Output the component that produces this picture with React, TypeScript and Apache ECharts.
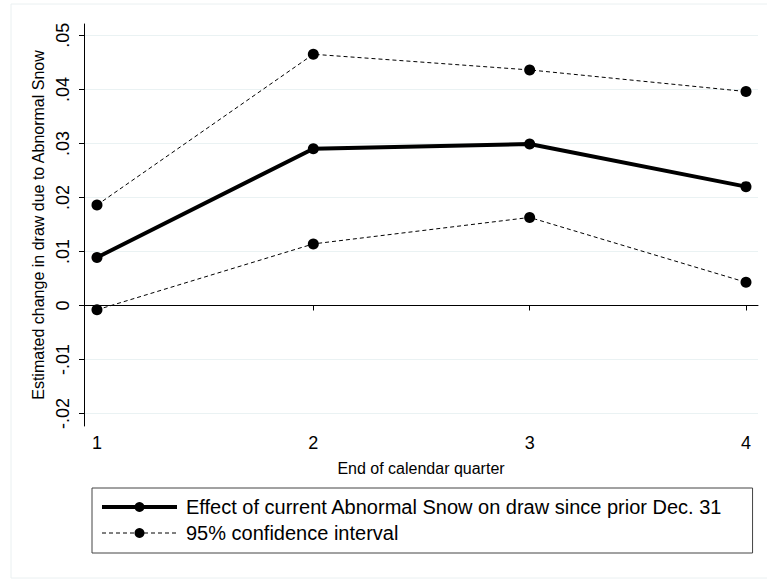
import React, { useEffect, useRef } from "react";
import * as echarts from "echarts";

const quarters = [1, 2, 3, 4];
const effect = [0.0089, 0.029, 0.0299, 0.022];
const upperCI = [0.0186, 0.0465, 0.0436, 0.0396];
const lowerCI = [-0.0008, 0.0114, 0.0163, 0.0043];
const yTicks = [-0.02, -0.01, 0, 0.01, 0.02, 0.03, 0.04, 0.05];
const xTicks = [1, 2, 3, 4];
const seriesNames = [
  "Effect of current Abnormal Snow on draw since prior Dec. 31",
  "95% confidence interval",
];

const FONT = "'Liberation Sans', Arial, sans-serif";

function fmtY(v: number): string {
  const r = Math.round(v * 100) / 100;
  if (r === 0) return "0";
  const s = r.toFixed(2);
  return s.replace("0.", ".");
}

export default function App() {
  const ref = useRef<HTMLDivElement>(null);
  useEffect(() => {
    if (!ref.current) return;
    const chart = echarts.init(ref.current, undefined, { renderer: "svg" });
    const pair = (arr: number[]) => quarters.map((q, i) => [q, arr[i]]);
    chart.setOption({
      animation: false,
      backgroundColor: "#ffffff",
      textStyle: { fontFamily: FONT },
      grid: { left: 84, right: 9, top: 24, bottom: 153, containLabel: false },
      xAxis: {
        type: "value",
        min: 0.94,
        max: 4.0555,
        name: "End of calendar quarter",
        nameLocation: "middle",
        nameGap: 34,
        nameTextStyle: { fontSize: 16, color: "#000", fontFamily: FONT },
        axisLine: { show: true, lineStyle: { color: "#000", width: 1 } },
        axisTick: { show: true, length: 5, customValues: xTicks, lineStyle: { color: "#000" } },
        axisLabel: {
          customValues: xTicks,
          fontSize: 18,
          color: "#000",
          margin: 8,
          fontFamily: FONT,
          formatter: (v: number) => String(v),
        },
        splitLine: { show: false },
      },
      yAxis: {
        type: "value",
        min: -0.0223,
        max: 0.0521,
        name: "Estimated change in draw due to Abnormal Snow",
        nameLocation: "middle",
        nameRotate: 90,
        nameGap: 35,
        nameTextStyle: { fontSize: 16, color: "#000", fontFamily: FONT },
        axisLine: { show: true, lineStyle: { color: "#000", width: 1 } },
        axisTick: { show: true, length: 5, customValues: yTicks, lineStyle: { color: "#000" } },
        axisLabel: {
          customValues: yTicks,
          rotate: 90,
          fontSize: 18,
          color: "#000",
          margin: 12,
          fontFamily: FONT,
          formatter: (v: number) => fmtY(v),
        },
        splitLine: { show: true, lineStyle: { color: "#eaf2f3", width: 1 } },
      },
      legend: {
        orient: "vertical",
        left: 92,
        top: 488,
        padding: [9, 30, 10, 8],
        borderColor: "#444",
        borderWidth: 1,
        itemWidth: 75,
        itemHeight: 12.5,
        itemGap: 6,
        textStyle: { fontSize: 20, color: "#000", fontFamily: FONT, padding: [0, 0, 0, 4] },
        data: [
          { name: seriesNames[0], lineStyle: { width: 4, color: "#000", type: "solid" } },
          { name: seriesNames[1], lineStyle: { width: 1, color: "#000", type: [4, 3] } },
        ],
      },
      series: [
        {
          name: seriesNames[1],
          type: "line",
          data: pair(upperCI),
          symbol: "circle",
          symbolSize: 11,
          itemStyle: { color: "#000" },
          lineStyle: { color: "#000", width: 1, type: [4, 3] },
          z: 3,
        },
        {
          name: seriesNames[1],
          type: "line",
          data: pair(lowerCI),
          symbol: "circle",
          symbolSize: 11,
          itemStyle: { color: "#000" },
          lineStyle: { color: "#000", width: 1, type: [4, 3] },
          z: 3,
        },
        {
          name: seriesNames[0],
          type: "line",
          data: pair(effect),
          symbol: "circle",
          symbolSize: 11,
          itemStyle: { color: "#000" },
          lineStyle: { color: "#000", width: 4 },
          z: 4,
        },
      ],
      graphic: [
        {
          type: "rect",
          shape: { x: 11, y: 4, width: 800, height: 574 },
          style: { fill: "none", stroke: "#eaf0f1", lineWidth: 1 },
          silent: true,
          z: -1,
        },
      ],
    });
    return () => chart.dispose();
  }, []);
  return (
    <div
      ref={ref}
      style={{ position: "fixed", left: 0, top: 0, width: 767, height: 579 }}
    />
  );
}
